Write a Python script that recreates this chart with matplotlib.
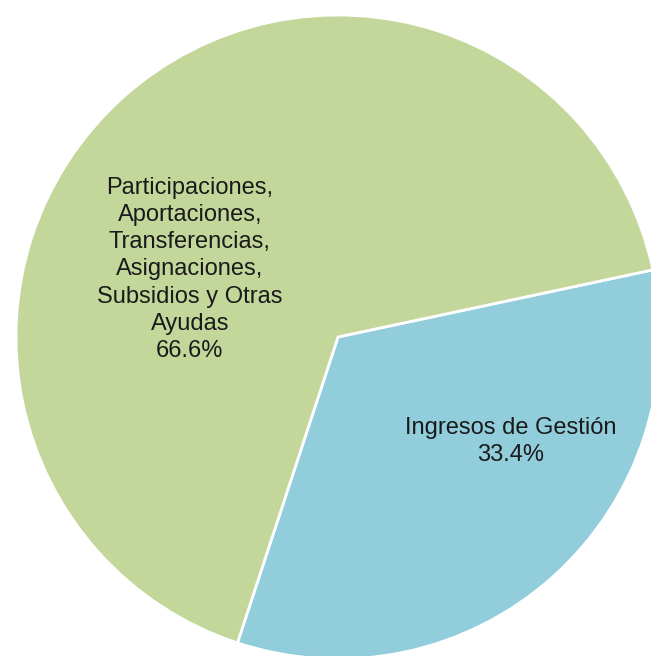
import matplotlib
matplotlib.use("Agg")
import matplotlib.pyplot as plt

categories = ["Ingresos de Gestión",
              "Participaciones,\nAportaciones,\nTransferencias,\nAsignaciones,\nSubsidios y Otras\nAyudas"]
values = [33.4, 66.6]
colors = ["#92CDDC", "#C4D79B"]
label_pos = [(0.535, -0.325), (-0.46, 0.21)]

plt.rcParams['font.family'] = ['Liberation Sans', 'DejaVu Sans']

fig = plt.figure(figsize=(6.51, 6.56), dpi=100)
W, H = 651, 656
cx, cy, r = 338, 337, 322
ax = fig.add_axes([(cx - r) / W, (H - cy - r) / H, 2 * r / W, 2 * r / H])
ax.axis('off')

ax.pie(values, colors=colors, startangle=-108.2, counterclock=True,
       radius=1, center=(0, 0),
       wedgeprops=dict(edgecolor='white', linewidth=2), frame=False)
ax.set_xlim(-1, 1)
ax.set_ylim(-1, 1)
ax.set_aspect('auto')

for cat, val, (x, y) in zip(categories, values, label_pos):
    ax.text(x, y, f"{cat}\n{val:.1f}%", ha='center', va='center',
            fontsize=17, color='#1a1a1a', linespacing=1.31)

fig.savefig("out.png", dpi=100)
